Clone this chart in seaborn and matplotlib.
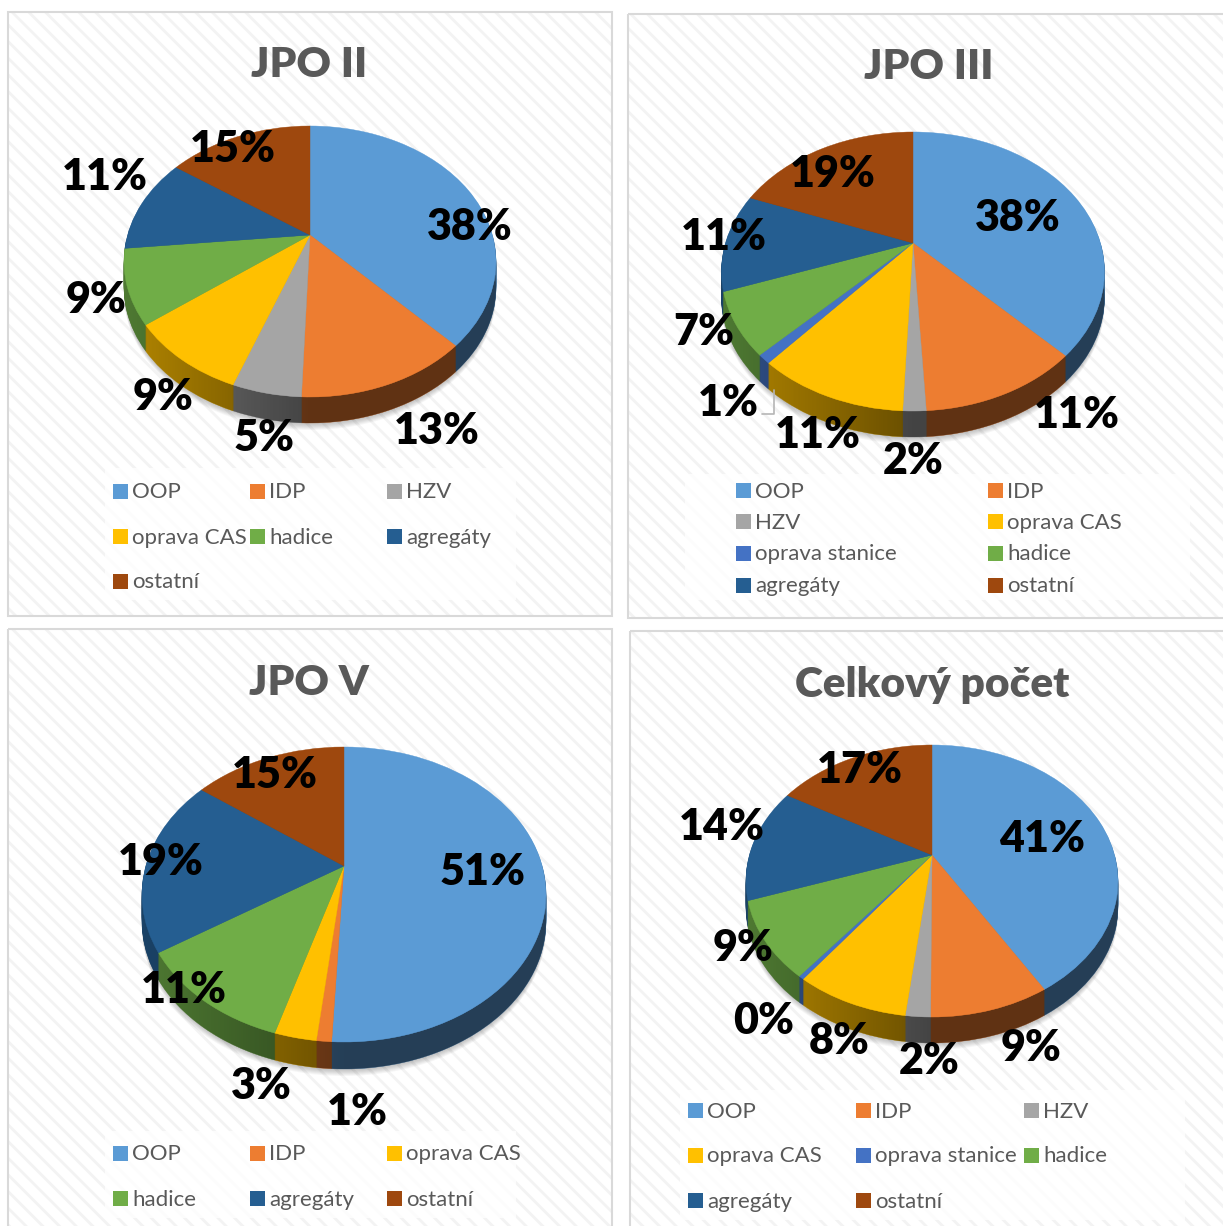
import numpy as np
import matplotlib
matplotlib.use("Agg")
import matplotlib.pyplot as plt
from matplotlib.patches import Rectangle, Polygon
from matplotlib.transforms import Transform, Affine2D
import seaborn as sns

# ---- data ----
names_jpo2 = ["OOP", "IDP", "HZV", "oprava CAS", "hadice", "agregáty", "ostatní"]
values_jpo2 = [38.0, 12.6, 5.0, 9.0, 8.8, 11.4, 15.2]
names_jpo3 = ["OOP", "IDP", "HZV", "oprava CAS", "oprava stanice", "hadice", "agregáty", "ostatní"]
values_jpo3 = [37.8, 11.3, 1.6, 10.6, 1.0, 7.2, 11.4, 19.1]
names_jpo5 = ["OOP", "IDP", "oprava CAS", "hadice", "agregáty", "ostatní"]
values_jpo5 = [50.8, 1.0, 2.8, 11.2, 19.4, 14.8]
names_total = ["OOP", "IDP", "HZV", "oprava CAS", "oprava stanice", "hadice", "agregáty", "ostatní"]
values_total = [41.4, 8.7, 1.8, 8.3, 0.4, 9.1, 13.6, 16.7]
titles = ["JPO II", "JPO III", "JPO V", "Celkový počet"]

# ---- styles ----
sns.set_theme(style="white")
plt.rcParams["font.family"] = ["Lato", "DejaVu Sans"]
plt.rcParams["hatch.linewidth"] = 2.0
plt.rcParams["hatch.color"] = "#f3f3f3"
palette = dict(zip(
    ["OOP", "IDP", "HZV", "oprava CAS", "oprava stanice", "hadice", "agregáty", "ostatní"],
    sns.color_palette(["#5B9BD5", "#ED7D31", "#A5A5A5", "#FFC000", "#4472C4", "#70AD47", "#255E91", "#9E480E"])))
GREY = "#595959"


class Perspective(Transform):
    """Tilted-disc projection of the unit pie onto figure pixels."""
    input_dims = output_dims = 2
    is_separable = False
    has_inverse = False

    def __init__(self, cx, cy, up, down, half_w):
        super().__init__()
        self.p = (down / up - 1) / (down / up + 1)
        self.ry = up * (1 + self.p)
        self.rx = half_w * np.sqrt(1 - self.p ** 2)
        self.cx, self.cy = cx, cy

    def transform_non_affine(self, values):
        v = np.asarray(values, dtype=float)
        s = 1 / (1 + self.p * v[:, 1])
        return np.column_stack([self.cx + self.rx * v[:, 0] * s, self.cy - self.ry * v[:, 1] * s])


# ---- layout (pixels) ----
layout = [
    dict(panel=(8, 12, 604, 604), title=(309, 65), geom=(310, 235, 109, 162, 186), depth=26,
         box=(105, 468, 411, 132), cols=[113, 250, 387], rows=[491, 536, 581],
         labels=[(470, 227), (437, 431), (264, 438), (163, 397), (96, 300), (105, 177), (233, 149)]),
    dict(panel=(628, 14, 620, 604), title=(929, 67), geom=(913, 243, 111, 168, 191.5), depth=26,
         box=(685, 474, 505, 126), cols=[736, 988], rows=[490, 521.5, 553, 585],
         labels=[(1018, 218), (1077, 415), (913, 461), (818, 435), (728, 403), (704, 332), (724, 237), (833, 174)]),
    dict(panel=(8, 629, 604, 620), title=(309, 683), geom=(344, 866, 119, 176, 202), depth=27,
         box=(105, 1131, 411, 87), cols=[113, 250, 387], rows=[1153, 1198],
         labels=[(483, 872), (357, 1112), (261, 1086), (184, 990), (161, 862), (275, 775)]),
    dict(panel=(630, 631, 620, 620), title=(932, 685), geom=(932, 855, 110, 162, 186), depth=26,
         box=(680, 1090, 505, 130), cols=[688, 856, 1024], rows=[1110, 1155, 1200],
         labels=[(1042, 839), (1031, 1048), (929, 1061), (839, 1041), (764, 1021), (743, 948), (722, 827), (860, 770)]),
]
series = [(names_jpo2, values_jpo2), (names_jpo3, values_jpo3), (names_jpo5, values_jpo5), (names_total, values_total)]

fig = plt.figure(figsize=(12.23, 12.26), dpi=100, facecolor="white")
ax = fig.add_axes([0, 0, 1, 1])


def pie_at(values, colors, tr, seam=0.3):
    wedges, _ = ax.pie(values, colors=colors, startangle=90, counterclock=False,
                       wedgeprops=dict(linewidth=seam))
    for w in wedges:
        w.set_edgecolor(w.get_facecolor())
        w.set_transform(tr + ax.transData)


for (names, values), title, lay in zip(series, titles, layout):
    x, y, w, h = lay["panel"]
    ax.add_patch(Rectangle((x, y), w, h, facecolor="white", edgecolor="#f3f3f3", hatch="\\\\", linewidth=0))
    ax.add_patch(Rectangle((x, y), w, h, facecolor="none", edgecolor="#d9d9d9", linewidth=1.5))
    bx, by, bw, bh = lay["box"]
    ax.add_patch(Rectangle((bx, by), bw, bh, facecolor="white", alpha=0.8, linewidth=0))
    ax.text(lay["title"][0], lay["title"][1], title, ha="center", va="center",
            fontsize=30.5, fontweight="heavy", color=GREY)

    persp = Perspective(*lay["geom"])
    depth = lay["depth"]
    colors = [palette[n] for n in names]
    side = [tuple(np.array(c) * 0.70) for c in colors]

    # soft shadow below the disc
    for off in range(depth + 7, depth, -1):
        pie_at([1], [(0, 0, 0, 0.035)], persp + Affine2D().translate(0, off), seam=0)
    # side wall
    for off in range(depth, 0, -1):
        pie_at(values, side, persp + Affine2D().translate(0, off))
    # side-wall shading, darker towards the middle and right
    t = np.linspace(np.pi, 2 * np.pi, 120)
    rim = persp.transform(np.column_stack([np.cos(t), np.sin(t)]))
    band = np.vstack([rim + [0, depth], rim[::-1]])
    cx, cy, up, down, hw = lay["geom"]
    rgba = np.zeros((1, 200, 4))
    rgba[0, :, 3] = np.interp(np.linspace(0, 1, 200), [0, 0.5, 1], [0.0, 0.42, 0.42])
    im = ax.imshow(rgba, extent=(cx - hw, cx + hw, cy + down + depth + 2, cy - 30), aspect="auto", zorder=1)
    im.set_clip_path(Polygon(band, transform=ax.transData))
    # top face
    pie_at(values, colors, persp + Affine2D())

    for v, pos in zip(values, lay["labels"]):
        ax.text(pos[0], pos[1], f"{v:.0f}%", ha="center", va="center",
                fontsize=31, fontweight="heavy", color="black", zorder=5)

    # legend grid, filled row by row
    cols, rows = lay["cols"], lay["rows"]
    for i, n in enumerate(names):
        lx, ly = cols[i % len(cols)], rows[i // len(cols)]
        ax.add_patch(Rectangle((lx, ly - 7.5), 15, 15, facecolor=palette[n], linewidth=0, zorder=4))
        ax.text(lx + 19, ly + 1.5, n, ha="left", va="center", fontsize=16, color=GREY, zorder=5)

# leader line for the 1 % slice in JPO III
ax.plot([774, 774, 762], [390, 414, 414], color="#b5b5b5", linewidth=1.2, zorder=4)

ax.set_aspect("auto")
ax.set_xlim(0, 1223)
ax.set_ylim(1226, 0)
ax.axis("off")
fig.savefig("out.png", dpi=100)
